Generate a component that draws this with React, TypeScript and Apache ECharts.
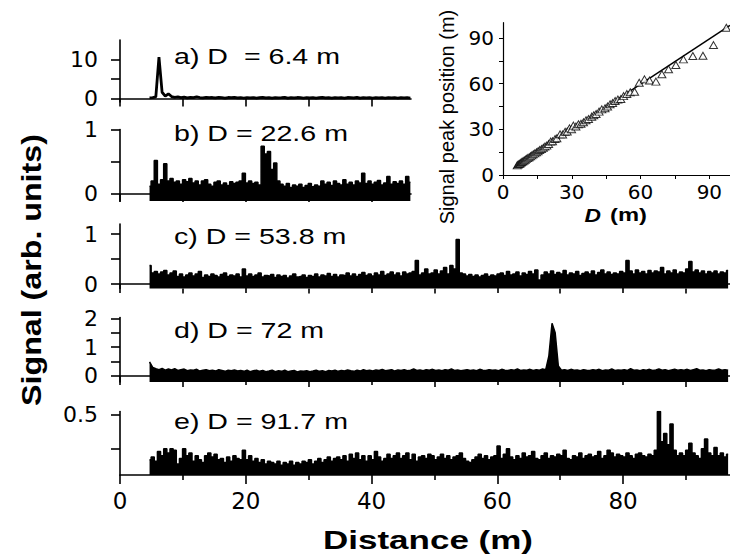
import React, { useEffect, useRef } from "react";
import * as echarts from "echarts";

const FONT = "'Liberation Sans', Arial, Helvetica, sans-serif";
const TICK_FONT = "'DejaVu Sans', Verdana, sans-serif";

// Traces: first sample at 4.7 m, one sample every 0.5 m
const traceStart = 4.7;
const traceStep = 0.5;

const signalA = [
  0.15, 0.2, 0.4, 10.6, 1.6, 0.6, 1.2, 0.5, 0.3, 0.4,
  0.2, 0.35, 0.15, 0.3, 0.2, 0.45, 0.25, 0.15, 0.3, 0.2,
  0.25, 0.15, 0.3, 0.2, 0.1, 0.25, 0.2, 0.3, 0.15, 0.2,
  0.1, 0.2, 0.15, 0.25, 0.1, 0.2, 0.3, 0.15, 0.2, 0.1,
  0.25, 0.15, 0.2, 0.3, 0.1, 0.2, 0.15, 0.25, 0.2, 0.1,
  0.2, 0.15, 0.25, 0.1, 0.2, 0.3, 0.15, 0.2, 0.1, 0.25,
  0.15, 0.2, 0.1, 0.25, 0.2, 0.15, 0.3, 0.1, 0.2, 0.15,
  0.25, 0.1, 0.2, 0.15, 0.2, 0.1, 0.25, 0.15, 0.2, 0.1, 0.2, 0.15, 0.2, 0.1,
];

const signalB = [
  0.12, 0.2, 0.52, 0.15, 0.22, 0.47, 0.2, 0.24, 0.18, 0.2,
  0.15, 0.22, 0.19, 0.24, 0.17, 0.2, 0.14, 0.2, 0.22, 0.15,
  0.12, 0.18, 0.2, 0.14, 0.17, 0.13, 0.19, 0.16, 0.18, 0.2,
  0.32, 0.17, 0.2, 0.16, 0.18, 0.14, 0.74, 0.62, 0.66, 0.38,
  0.48, 0.2, 0.15, 0.12, 0.16, 0.1, 0.14, 0.12, 0.15, 0.1,
  0.13, 0.16, 0.11, 0.14, 0.12, 0.2, 0.15, 0.18, 0.13, 0.2,
  0.16, 0.14, 0.22, 0.15, 0.18, 0.14, 0.2, 0.17, 0.32, 0.16,
  0.2, 0.15, 0.18, 0.21, 0.14, 0.17, 0.27, 0.15, 0.19, 0.16,
  0.2, 0.15, 0.27, 0.18,
];

const signalC = [
  0.37, 0.22, 0.25, 0.2, 0.24, 0.27, 0.18, 0.22, 0.26, 0.15,
  0.2, 0.14, 0.18, 0.22, 0.16, 0.2, 0.25, 0.13, 0.18, 0.15,
  0.2, 0.17, 0.14, 0.19, 0.22, 0.15, 0.18, 0.16, 0.2, 0.14,
  0.3, 0.16, 0.2, 0.15, 0.18, 0.22, 0.14, 0.17, 0.16, 0.19,
  0.13, 0.18, 0.15, 0.17, 0.12, 0.16, 0.2, 0.14, 0.15, 0.18,
  0.13, 0.17, 0.15, 0.2, 0.14, 0.18, 0.16, 0.21, 0.15, 0.19,
  0.14, 0.18, 0.17, 0.22, 0.16, 0.2, 0.15, 0.19, 0.23, 0.17,
  0.2, 0.16, 0.22, 0.18, 0.25, 0.17, 0.2, 0.24, 0.18, 0.22,
  0.16, 0.24, 0.2, 0.22, 0.25, 0.47, 0.18, 0.22, 0.3, 0.2,
  0.22, 0.28, 0.2, 0.26, 0.33, 0.2, 0.37, 0.3, 0.89, 0.22,
  0.2, 0.16, 0.19, 0.15, 0.18, 0.14, 0.17, 0.2, 0.15, 0.18,
  0.16, 0.2, 0.22, 0.17, 0.25, 0.18, 0.2, 0.24, 0.16, 0.22,
  0.19, 0.25, 0.2, 0.28, 0.08, 0.18, 0.24, 0.2, 0.26, 0.19,
  0.23, 0.2, 0.27, 0.18, 0.22, 0.2, 0.25, 0.17, 0.21, 0.24,
  0.2, 0.26, 0.18, 0.23, 0.28, 0.2, 0.24, 0.19, 0.22, 0.2,
  0.25, 0.22, 0.47, 0.26, 0.2, 0.28, 0.22, 0.25, 0.2, 0.27,
  0.22, 0.26, 0.24, 0.33, 0.2, 0.26, 0.22, 0.28, 0.2, 0.24,
  0.22, 0.3, 0.45, 0.24, 0.28, 0.22, 0.26, 0.2, 0.25, 0.22,
  0.26, 0.2, 0.24, 0.22, 0.27,
];

const signalD = [
  0.49, 0.3, 0.25, 0.22, 0.26, 0.2, 0.24, 0.21, 0.25, 0.19,
  0.22, 0.24, 0.18, 0.21, 0.2, 0.23, 0.17, 0.2, 0.22, 0.18,
  0.2, 0.17, 0.22, 0.19, 0.16, 0.2, 0.18, 0.21, 0.17, 0.19,
  0.16, 0.2, 0.15, 0.18, 0.2, 0.16, 0.19, 0.15, 0.17, 0.2,
  0.15, 0.18, 0.16, 0.2, 0.15, 0.17, 0.19, 0.14, 0.17, 0.16,
  0.18, 0.15, 0.17, 0.2, 0.16, 0.18, 0.15, 0.19, 0.17, 0.2,
  0.16, 0.19, 0.17, 0.21, 0.18, 0.16, 0.2, 0.17, 0.22, 0.18,
  0.2, 0.17, 0.21, 0.19, 0.23, 0.18, 0.2, 0.22, 0.17, 0.21,
  0.19, 0.22, 0.18, 0.2, 0.24, 0.19, 0.21, 0.18, 0.22, 0.2,
  0.23, 0.19, 0.21, 0.18, 0.22, 0.2, 0.24, 0.19, 0.21, 0.18,
  0.2, 0.22, 0.19, 0.21, 0.18, 0.23, 0.2, 0.19, 0.22, 0.2,
  0.21, 0.18, 0.23, 0.2, 0.19, 0.22, 0.2, 0.24, 0.19, 0.21,
  0.2, 0.23, 0.19, 0.22, 0.2, 0.24, 0.22, 0.7, 1.83, 1.5,
  0.35, 0.2, 0.22, 0.19, 0.23, 0.2, 0.21, 0.18, 0.22, 0.2,
  0.19, 0.22, 0.2, 0.23, 0.18, 0.21, 0.2, 0.24, 0.19, 0.21,
  0.2, 0.22, 0.19, 0.25, 0.2, 0.21, 0.18, 0.22, 0.2, 0.23,
  0.19, 0.21, 0.24, 0.2, 0.22, 0.18, 0.21, 0.23, 0.2, 0.22,
  0.2, 0.23, 0.19, 0.22, 0.25, 0.2, 0.21, 0.18, 0.22, 0.2,
  0.21, 0.24, 0.2, 0.22, 0.2,
];

const signalE = [
  0.17, 0.19, 0.16, 0.23, 0.2, 0.25, 0.22, 0.25, 0.24, 0.14,
  0.18, 0.25, 0.2, 0.22, 0.16, 0.2, 0.17, 0.15, 0.2, 0.22,
  0.19, 0.21, 0.17, 0.18, 0.15, 0.19, 0.16, 0.2, 0.18, 0.17,
  0.24, 0.17, 0.2, 0.16, 0.18, 0.15, 0.17, 0.14, 0.16, 0.15,
  0.14, 0.16, 0.13, 0.15, 0.14, 0.16, 0.13, 0.15, 0.14, 0.16,
  0.15, 0.17, 0.14, 0.16, 0.18, 0.15, 0.17, 0.19, 0.16, 0.18,
  0.19, 0.17, 0.2, 0.16, 0.21, 0.18, 0.22, 0.17, 0.2, 0.16,
  0.2, 0.17, 0.23, 0.19, 0.16, 0.18, 0.21, 0.18, 0.2, 0.22,
  0.18, 0.2, 0.22, 0.17, 0.21, 0.16, 0.19, 0.2, 0.18, 0.21,
  0.2, 0.17, 0.19, 0.21, 0.18, 0.2, 0.17, 0.19, 0.2, 0.22,
  0.18, 0.16, 0.15, 0.17, 0.19, 0.21, 0.18, 0.2, 0.17, 0.19,
  0.2, 0.27, 0.18, 0.21, 0.25, 0.19, 0.17, 0.2, 0.18, 0.22,
  0.19, 0.2, 0.23, 0.18, 0.17, 0.2, 0.22, 0.18, 0.2, 0.19,
  0.21, 0.2, 0.24, 0.18, 0.17, 0.2, 0.19, 0.22, 0.18, 0.2,
  0.21, 0.19, 0.2, 0.23, 0.18, 0.2, 0.24, 0.22, 0.19, 0.21,
  0.2, 0.19, 0.22, 0.2, 0.18, 0.21, 0.22, 0.2, 0.19, 0.21,
  0.2, 0.24, 0.52, 0.3, 0.36, 0.28, 0.43, 0.24, 0.2, 0.22,
  0.2, 0.24, 0.29, 0.22, 0.2, 0.18, 0.25, 0.32, 0.22, 0.2,
  0.26, 0.2, 0.22, 0.19, 0.21,
];

// Inset: actual distance D vs. signal peak position
const insetD = [
  6.2, 6.6, 7.0, 7.4, 7.8, 8.2, 8.7, 9.2, 9.7, 10.2,
  10.8, 11.4, 12.0, 12.6, 13.2, 13.9, 14.6, 15.3, 16.0, 16.8,
  17.6, 18.3, 19.1, 19.9, 20.8, 21.6, 22.7, 23.5, 24.9, 26.0,
  27.1, 28.0, 29.0, 29.9, 30.7, 31.8, 32.9, 34.0, 35.1, 36.2,
  37.3, 38.7, 39.6, 40.6, 41.9, 43.1, 44.5, 45.6, 46.7, 47.8,
  48.9, 50.1, 51.4, 52.6, 54.0, 55.5, 57.4, 59.4, 61.7, 63.9,
  66.7, 69.3, 72.2, 75.4, 78.7, 82.8, 87.2, 91.8, 97.4,
];
const insetPeak = [
  6.3, 6.8, 7.2, 7.6, 8.0, 8.5, 9.0, 9.5, 10.0, 10.6,
  11.1, 11.7, 12.3, 12.9, 13.6, 14.2, 14.9, 15.6, 16.4, 17.1,
  17.9, 18.7, 19.3, 20.4, 21.9, 22.2, 23.6, 24.1, 26.7, 26.6,
  28.4, 28.6, 30.6, 30.1, 32.4, 31.8, 33.3, 33.6, 34.6, 35.9,
  36.8, 38.3, 39.2, 40.0, 41.6, 43.1, 43.8, 45.0, 46.4, 47.3,
  48.6, 49.6, 49.9, 51.8, 53.2, 54.3, 54.7, 60.6, 62.8, 62.1,
  61.3, 66.1, 69.4, 72.2, 75.9, 78.1, 78.3, 85.3, 96.7,
];
const fitLine = [
  [6, 6.1],
  [99, 98.2],
];

const panelLabels = ["a) D  = 6.4 m", "b) D = 22.6 m", "c) D = 53.8 m", "d) D = 72 m", "e) D = 91.7 m"];
const panelYRange = [
  [-0.9, 15],
  [-0.11, 1],
  [-0.09, 1.2],
  [-0.21, 2.03],
  [0.06, 0.52],
];
const panelYTicks = [
  [0, 5, 10],
  [0, 0.5, 1],
  [0, 0.5, 1],
  [0, 0.5, 1, 1.5, 2],
  [0.25, 0.5],
];
const panelYLabels = [
  [0, 10],
  [0, 1],
  [0, 1],
  [0, 1, 2],
  [0.5],
];
const shortXMax = 46.3;
const longXMax = 97;
const shortXTicks = [0, 10, 20, 30, 40];
const longXMajorTicks = [0, 20, 40, 60, 80];
const longXMinorTicks = [10, 30, 50, 70, 90];
const insetTicks = [0, 15, 30, 45, 60, 75, 90];
const insetLabels = [0, 30, 60, 90];

const toPairs = (vals: number[]) =>
  vals.map((v, i) => [Math.round((traceStart + i * traceStep) * 100) / 100, v]);

export default function App() {
  const ref = useRef<HTMLDivElement>(null);

  useEffect(() => {
    if (!ref.current) return;
    const chart = echarts.init(ref.current, undefined, { renderer: "svg" });

    const L = 120;
    const panelRects = [
      { top: 40, height: 62, width: 291 },
      { top: 129.5, height: 71.5, width: 291 },
      { top: 224, height: 64.5, width: 610 },
      { top: 317.5, height: 64.5, width: 610 },
      { top: 411.5, height: 63.5, width: 610 },
    ];
    const black = "#000";
    const axisLine = { show: true, lineStyle: { color: black, width: 1.6 } };
    const labelStyle = { color: black, fontFamily: TICK_FONT, fontSize: 22 };

    const grids: any[] = panelRects.map((r) => ({ left: L, top: r.top, width: r.width, height: r.height }));
    grids.push({ left: 503, top: 22.7, width: 227, height: 152.3 });
    [2, 3, 4].forEach((k) =>
      grids.push({ left: L, top: panelRects[k].top, width: panelRects[k].width, height: panelRects[k].height })
    );

    const xAxes: any[] = panelRects.map((r, k) => ({
      type: "value",
      gridIndex: k,
      min: 0,
      max: k < 2 ? shortXMax : longXMax,
      axisLine,
      splitLine: { show: false },
      axisTick: {
        show: true,
        length: k < 2 ? 8 : 9,
        lineStyle: { color: black, width: 1.6 },
        customValues: k < 2 ? shortXTicks : longXMajorTicks,
      },
      axisLabel: k === 4 ? { ...labelStyle, fontSize: 23, margin: 14, customValues: longXMajorTicks } : { show: false },
    }));
    xAxes.push({
      type: "value",
      gridIndex: 5,
      min: 0,
      max: 99,
      axisLine: { show: true, lineStyle: { color: black, width: 1.2 } },
      splitLine: { show: false },
      axisTick: { show: true, length: 4, lineStyle: { color: black, width: 1 }, customValues: insetTicks },
      axisLabel: { ...labelStyle, fontSize: 20, margin: 7, customValues: insetLabels },
    });
    [6, 7, 8].forEach((g) =>
      xAxes.push({
        type: "value",
        gridIndex: g,
        min: 0,
        max: longXMax,
        axisLine: { show: false },
        splitLine: { show: false },
        axisTick: { show: true, length: 5, lineStyle: { color: black, width: 1.6 }, customValues: longXMinorTicks },
        axisLabel: { show: false },
      })
    );

    const yAxes: any[] = panelRects.map((r, k) => ({
      type: "value",
      gridIndex: k,
      min: panelYRange[k][0],
      max: panelYRange[k][1],
      axisLine,
      splitLine: { show: false },
      axisTick: { show: true, length: 9, lineStyle: { color: black, width: 1.6 }, customValues: panelYTicks[k] },
      axisLabel: { ...labelStyle, margin: 22, customValues: panelYLabels[k] },
    }));
    yAxes.push({
      type: "value",
      gridIndex: 5,
      min: 0,
      max: 100,
      axisLine: { show: true, lineStyle: { color: black, width: 1.2 } },
      splitLine: { show: false },
      axisTick: { show: true, length: 4, lineStyle: { color: black, width: 1 }, customValues: insetTicks },
      axisLabel: { ...labelStyle, fontSize: 20, margin: 9, customValues: insetLabels },
    });
    [6, 7, 8].forEach((g) => yAxes.push({ type: "value", gridIndex: g, min: 0, max: 1, show: false }));

    const traces = [signalA, signalB, signalC, signalD, signalE];
    const series: any[] = traces.map((vals, k) => ({
      type: "line",
      xAxisIndex: k,
      yAxisIndex: k,
      data: toPairs(vals),
      symbol: "none",
      step: k === 0 || k === 3 ? false : "middle",
      lineStyle: { color: black, width: k === 0 ? 2.8 : 1.5 },
      areaStyle: k === 0 ? undefined : { color: black, opacity: 1, origin: "start" },
      silent: true,
    }));
    series.push({
      type: "line",
      xAxisIndex: 5,
      yAxisIndex: 5,
      data: fitLine,
      symbol: "none",
      lineStyle: { color: black, width: 1.5 },
      z: 3,
    });
    series.push({
      type: "scatter",
      xAxisIndex: 5,
      yAxisIndex: 5,
      data: insetD.map((d, i) => [d, insetPeak[i]]),
      symbol: "triangle",
      symbolSize: [8, 7],
      itemStyle: { color: "#fff", borderColor: black, borderWidth: 1 },
      z: 4,
    });

    const labelY = [56, 133, 236, 330, 421];
    const graphic: any[] = panelLabels.map((t, k) => ({
      type: "text",
      x: 174,
      y: labelY[k],
      scaleX: 1.3,
      style: { text: t, fill: black, font: `22px ${FONT}`, align: "left", verticalAlign: "middle" },
    }));
    graphic.push({
      type: "text",
      x: 31,
      y: 270,
      rotation: Math.PI / 2,
      scaleX: 1.15,
      style: {
        text: "Signal (arb. units)",
        fill: black,
        font: `bold 28px ${FONT}`,
        align: "center",
        verticalAlign: "middle",
      },
    });
    graphic.push({
      type: "text",
      x: 428,
      y: 540,
      scaleX: 1.4,
      style: { text: "Distance (m)", fill: black, font: `bold 25px ${FONT}`, align: "center", verticalAlign: "middle" },
    });
    graphic.push({
      type: "text",
      x: 447,
      y: 117,
      rotation: Math.PI / 2,
      style: {
        text: "Signal peak position (m)",
        fill: black,
        font: `20px ${FONT}`,
        align: "center",
        verticalAlign: "middle",
      },
    });
    graphic.push({
      type: "text",
      x: 601,
      y: 215,
      scaleX: 1.2,
      style: { text: "D", fill: black, font: `italic bold 19px ${FONT}`, align: "right", verticalAlign: "middle" },
    });
    graphic.push({
      type: "text",
      x: 610,
      y: 215,
      scaleX: 1.25,
      style: { text: "(m)", fill: black, font: `bold 19px ${FONT}`, align: "left", verticalAlign: "middle" },
    });

    chart.setOption({
      animation: false,
      backgroundColor: "#fff",
      grid: grids,
      xAxis: xAxes,
      yAxis: yAxes,
      series,
      graphic,
    });

    return () => chart.dispose();
  }, []);

  return <div ref={ref} style={{ width: 730, height: 554, position: "absolute", left: 0, top: 0 }} />;
}
